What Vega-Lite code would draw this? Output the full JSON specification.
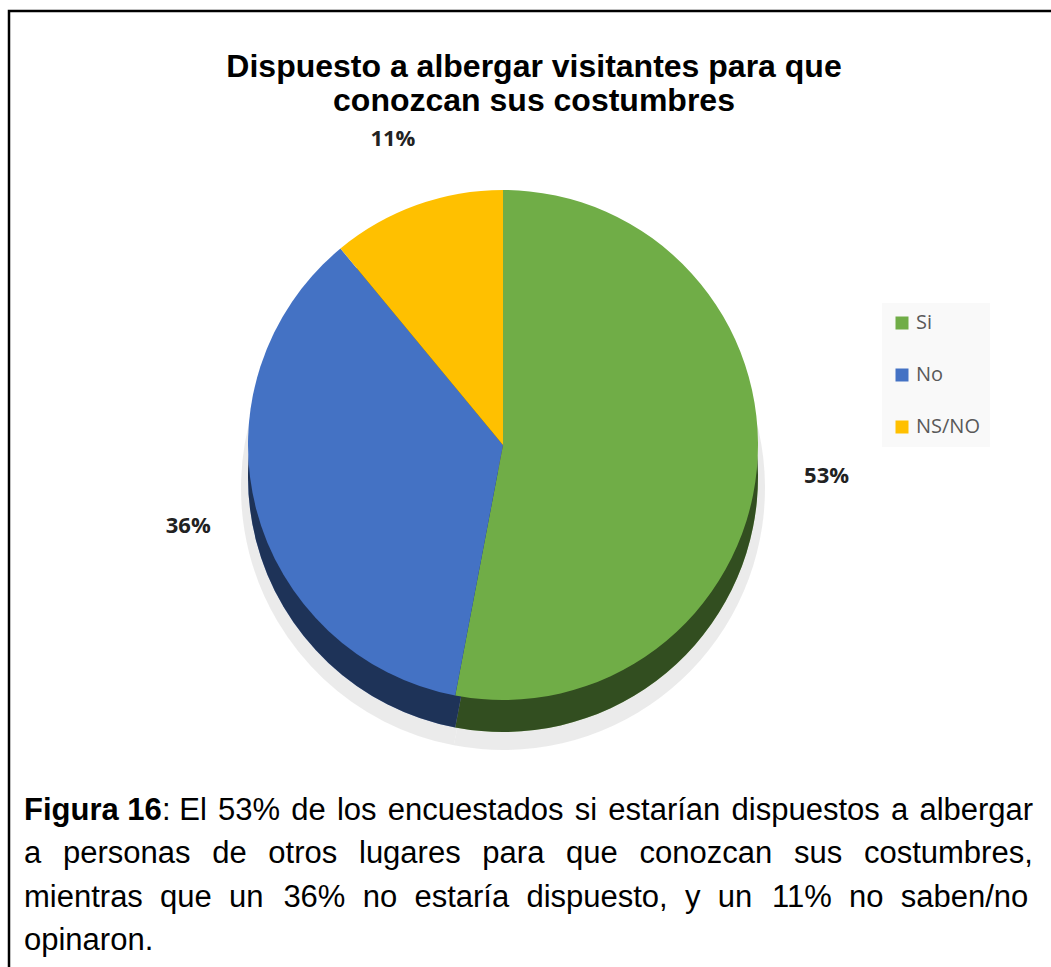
{
  "$schema": "https://vega.github.io/schema/vega-lite/v6.json",
  "autosize": {"type": "none"},
  "padding": {"left": 9, "top": 11, "right": -8, "bottom": -14},
  "width": 1050,
  "height": 970,
  "background": "white",
  "config": {"view": {"stroke": "#000000", "strokeWidth": 2.5}, "font": "Liberation Sans"},
  "title": {
    "text": ["Dispuesto a albergar visitantes para que", "conozcan sus costumbres"],
    "font": "Liberation Sans",
    "fontSize": 32,
    "fontWeight": "bold",
    "color": "#000000",
    "lineHeight": 34,
    "anchor": "middle",
    "frame": "group",
    "offset": -107
  },
  "data": {
    "values": [
      {"respuesta": "Si", "valor": 0.53},
      {"respuesta": "No", "valor": 0.36},
      {"respuesta": "NS/NO", "valor": 0.11}
    ]
  },
  "layer": [
    {
      "mark": {"type": "arc", "radius": 262, "xOffset": -31, "yOffset": -8, "fill": "#e6e6e6", "opacity": 0.8},
      "encoding": {
        "theta": {"field": "valor", "type": "quantitative", "stack": true},
        "order": {"field": "valor", "type": "quantitative", "sort": "descending"},
        "detail": {"field": "respuesta"}
      }
    },
    {
      "mark": {"type": "arc", "radius": 255, "xOffset": -31, "yOffset": -19},
      "encoding": {
        "theta": {"field": "valor", "type": "quantitative", "stack": true},
        "order": {"field": "valor", "type": "quantitative", "sort": "descending"},
        "color": {"field": "respuesta", "type": "nominal"}
      }
    },
    {
      "mark": {"type": "arc", "radius": 255, "xOffset": -31, "yOffset": -19, "fill": "#000000", "opacity": 0.55},
      "encoding": {
        "theta": {"field": "valor", "type": "quantitative", "stack": true},
        "order": {"field": "valor", "type": "quantitative", "sort": "descending"},
        "detail": {"field": "respuesta"}
      }
    },
    {
      "mark": {"type": "arc", "radius": 255, "xOffset": -31, "yOffset": -51},
      "encoding": {
        "theta": {"field": "valor", "type": "quantitative", "stack": true},
        "order": {"field": "valor", "type": "quantitative", "sort": "descending"},
        "color": {
          "field": "respuesta",
          "type": "nominal",
          "scale": {"domain": ["Si", "No", "NS/NO"], "range": ["#70ad47", "#4472c4", "#ffc000"]},
          "legend": {
            "orient": "none",
            "legendX": 873,
            "legendY": 292,
            "title": null,
            "fillColor": "#f9f9f9",
            "padding": 10,
            "rowPadding": 32,
            "symbolType": "square",
            "symbolSize": 169,
            "symbolStrokeWidth": 0,
            "labelFont": "Open Sans",
            "labelFontSize": 20,
            "labelColor": "#595959",
            "labelOffset": 4
          }
        }
      }
    },
    {
      "mark": {"type": "text", "radius": 325, "xOffset": -31, "yOffset": -51, "font": "Open Sans", "fontSize": 22, "fontWeight": "bold", "fill": "#222222"},
      "encoding": {
        "theta": {"field": "valor", "type": "quantitative", "stack": true},
        "order": {"field": "valor", "type": "quantitative", "sort": "descending"},
        "detail": {"field": "respuesta"},
        "text": {"field": "valor", "type": "quantitative", "format": ".0%"}
      }
    },
    {
      "data": {"values": [{"t": "Figura 16"}]},
      "mark": {"type": "text", "font": "Liberation Sans", "fontSize": 31, "fontWeight": "bold", "align": "left", "baseline": "alphabetic", "fill": "#000000"},
      "encoding": {"x": {"value": 15}, "y": {"value": 809}, "text": {"field": "t"}}
    },
    {
      "data": {"values": [{"t": ": El \u200a53% \u200ade \u200alos \u200aencuestados \u200asi \u200aestarían \u200adispuestos \u200aa \u200aalbergar"}]},
      "mark": {"type": "text", "font": "Liberation Sans", "fontSize": 31, "align": "left", "baseline": "alphabetic", "fill": "#000000"},
      "encoding": {"x": {"value": 153}, "y": {"value": 809}, "text": {"field": "t"}}
    },
    {
      "data": {"values": [{"t": ["a\u2002\u2009personas\u2002\u2009de\u2002\u2009otros\u2002\u2009lugares\u2002\u2009para\u2002\u2009que\u2002\u2009conozcan\u2002\u2009sus\u2002\u2009costumbres,", "mientras\u2007que\u2007un\u2007\u200a36%\u2007no\u2007estaría\u2007dispuesto,\u2007y\u2007un\u2007\u200a11%\u2007no\u2007saben/no", "opinaron."]}]},
      "mark": {"type": "text", "font": "Liberation Sans", "fontSize": 31, "align": "left", "baseline": "alphabetic", "lineHeight": 43.5, "fill": "#000000"},
      "encoding": {"x": {"value": 15}, "y": {"value": 852}, "text": {"field": "t"}}
    }
  ]
}
